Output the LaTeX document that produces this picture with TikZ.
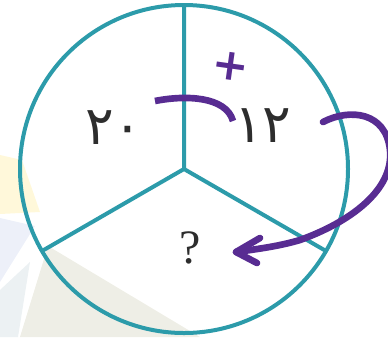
\documentclass[tikz,border=0pt]{standalone}
\usepackage{fontspec}
\usepackage{tikz}
\usetikzlibrary{arrows.meta}
\newfontfamily\arabicfont[Script=Arabic]{DejaVu Sans}
\newfontfamily\marksans{DejaVu Sans}
\newfontfamily\queryserif{Liberation Serif}
\definecolor{wheelteal}{RGB}{44,155,170}
\definecolor{penpurple}{RGB}{88,44,146}
\definecolor{inkgray}{RGB}{45,45,45}

\begin{document}
\begin{tikzpicture}[x=0.75pt,y=-0.75pt,
  rim/.style={wheelteal,line width=3pt},
  pen/.style={penpurple,line width=5pt,line cap=round,line join=round},
  digits/.style={inkgray,inner sep=0pt,font=\arabicfont\fontsize{40}{40}\selectfont},
  wmark/.style={opacity=0.15}]
  \useasboundingbox (0,0) rectangle (388,337);
  % faint backdrop
  \fill[yellow!70!orange,wmark] (0,155)--(22,160)--(40,212)--(0,214)--cycle;
  \fill[cyan!40!blue!50,wmark] (0,218)--(35,226)--(0,282)--cycle;
  \fill[olive!40!gray,wmark] (48,246)--(200,337)--(20,337)--cycle;
  \fill[cyan!30!gray,wmark] (0,290)--(30,262)--(18,337)--(0,337)--cycle;
  % wheel
  \coordinate (hub) at (184,169);
  \coordinate (rimtop) at (184,5);
  \coordinate (rimleft) at (42,251);
  \coordinate (rimright) at (326,251);
  \draw[rim] (hub) circle (164);
  \draw[rim,line join=round] (rimtop)--(hub)--(rimleft) (hub)--(rimright);
  % numbers
  \node[digits] (twenty) at (114,128) {٢٠};
  \node[digits] (twelve) at (263,126) {١٢};
  \node[inkgray,inner sep=0pt,font=\queryserif\fontsize{36}{36}\selectfont] (query) at (190,248) {?};
  \node[penpurple,inner sep=0pt,rotate=-8,font=\marksans\bfseries\fontsize{33}{33}\selectfont] (plus) at (231,66) {+};
  % sum stroke
  \coordinate (sumtail) at (155,101);
  \coordinate (sumhead) at (233,121);
  \draw[pen,line cap=butt] (sumtail) .. controls (185,95) and (226,96) .. (sumhead);
  % answer arrow
  \coordinate (looptail) at (323,122);
  \coordinate (loophead) at (236,252);
  \draw[pen] (looptail) .. controls (350,108) and (386,112) .. (390,150)
    .. controls (394,190) and (350,222) .. (300,240)
    .. controls (280,246) and (258,249) .. (loophead);
  \draw[pen] (260,238)--(loophead)--(257,263);
\end{tikzpicture}
\end{document}
